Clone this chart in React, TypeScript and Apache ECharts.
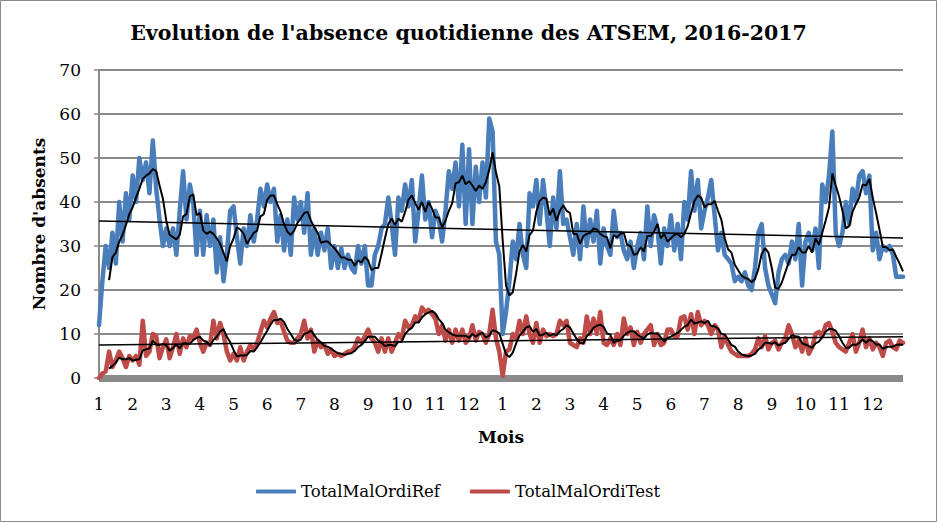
import React, { useEffect, useRef } from "react";
import * as echarts from "echarts";

const monthLabels = ["1","2","3","4","5","6","7","8","9","10","11","12","1","2","3","4","5","6","7","8","9","10","11","12"];

const refValues: number[] = [
  12,22,30,25,33,26,40,31,42,36,46,40,50,45,49,42,54,43,36,30,34,30,34,28,38,47,36,44,40,28,38,28,37,30,36,24,32,22,28,38,39,
  32,26,34,30,37,31,36,43,39,44,40,43,31,37,29,36,28,41,36,40,33,42,28,34,28,33,29,34,25,30,25,29.5,25,28,25,24,30,26,30,21,
  21,28,30,34,35,41,35,28,41,38,44,39,45,31,38,46,36,40,32,38,36,31,38,47,43,49,39,53,35,52,35,48,40,49,41,59,56,31,28,10,
  15,22,31,27,35,28,25,42,39,45,35,45,38,30,41,34,47,35,36,32,28,35,27,39,30,36,31,38,26,34,30,28,38,32,33,29,27,31,25,30,
  33,27,39,30,37,34,26,34,30,37,29,35,27,40,36,47,38,45,34,38,41,45,37,29,33,28,27,26,22,23,22,24,21,20,25,33,35,25,21,19,
  17,24,27,28,26,31,27,35,21,31,33,29,34,25,44,40,46,56,33,30,33,40,35,43,40,46,47,42,46,29,33,27,30,29,30,28,23,23,23
];

const testValues: number[] = [
  0,1,1.5,6,2.5,4,6,4.5,2.5,5,4,5,3,13,5,6,10,9.5,4.5,7,8.8,4.5,7,10,5.5,9,7,9.5,9,11,8,6,8,7.5,13,9,12.5,10,6,4,5.5,4,7,4,6,7.5,6.5,8,10.5,13,11.5,13.5,15,12.5,13,10.5,8.5,8,8,9,10,13,
  9,11,6,8.5,7,7.5,5.5,6.5,5,5.5,5,5.5,6,6,7,9,8,9.5,11,9,8,6,9,6,9,6,8,10,9,13,11.5,12,14,13,16,15,15.5,14.5,13.5,10,12,8.5,11,8,11,8.5,11,8,9,12,8.5,10.5,10,8,10,15.5,9,6,0.5,6,6.5,
  10,9,13,10,14,10,8,12.5,8,11,9.5,10,9.5,10,13,12,13,8,7.5,7,9,8,14,10,13.5,10,15,8,7.5,9,7.5,10,7.5,13.5,10,11.5,7.5,10.5,8,10,11,12,7.5,10,7.5,8,11,11,9.5,9.5,13.7,14,11,14.5,10,15,12,13,12,10,12,
  11,7,9.5,7.5,6,5.5,5,5,5,5,5.5,6.5,9,7,9.5,6.5,8,8.5,6.5,8,9,12,10,7,8.5,6,9,5.5,7,10,10.5,9.5,12,12.5,10.5,8,7,6.5,6,8,10,6,8,11,7,9,6.5,8,7,5,8,8.5,7,6.5,8.5,8
];

const refTrendEnds = [35.7, 31.8];
const testTrendEnds = [7.5, 9.4];
const maPeriod = 4;
const pointsPerMonth = 10;

function movingAverage(arr: number[], n: number): (number | null)[] {
  return arr.map((_, i) => {
    if (i < n - 1) return null;
    let s = 0;
    for (let k = i - n + 1; k <= i; k++) s += arr[k];
    return +(s / n).toFixed(2);
  });
}

const FONT = "DejaVu Serif";

export default function App() {
  const ref = useRef<HTMLDivElement>(null);
  useEffect(() => {
    document.body.style.margin = "0";
    const chart = echarts.init(ref.current as HTMLDivElement, null, { renderer: "svg" });
    const cats = refValues.map((_, i) => String(i));
    const last = cats[cats.length - 1];
    const blue = "#4a7ebb";
    const red = "#be4b48";
    const option: any = {
      animation: false,
      backgroundColor: "#ffffff",
      title: {
        text: "Evolution de l'absence quotidienne des ATSEM, 2016-2017",
        left: "center",
        top: 17,
        textStyle: { fontFamily: FONT, fontWeight: "bold", fontSize: 20.5, color: "#000" },
      },
      graphic: [
        {
          type: "rect",
          shape: { x: 0.5, y: 0.5, width: 936, height: 521 },
          style: { fill: "none", stroke: "#8a8a8a", lineWidth: 1 },
          silent: true,
        },
      ],
      legend: {
        data: ["TotalMalOrdiRef", "TotalMalOrdiTest"],
        left: 251,
        top: 478,
        icon: "roundRect",
        itemWidth: 40,
        itemHeight: 4,
        itemGap: 30,
        textStyle: { fontFamily: FONT, fontSize: 16.5, color: "#000" },
      },
      grid: { left: 99, right: 34, top: 70, bottom: 144, containLabel: false },
      xAxis: {
        type: "category",
        data: cats,
        boundaryGap: false,
        offset: 3.5,
        name: "Mois",
        nameLocation: "middle",
        nameGap: 47,
        nameTextStyle: { fontFamily: FONT, fontWeight: "bold", fontSize: 17, color: "#000" },
        axisLine: { show: true, lineStyle: { color: "#8a8a8a", width: 7, cap: "butt" } },
        axisTick: { show: false },
        axisLabel: {
          interval: (index: number) => index % pointsPerMonth === 0,
          formatter: (_v: string, index: number) => monthLabels[Math.floor(index / pointsPerMonth)] ?? "",
          fontFamily: FONT,
          fontSize: 17,
          color: "#000",
          margin: 14,
        },
        splitLine: { show: false },
      },
      yAxis: {
        type: "value",
        min: 0,
        max: 70,
        interval: 10,
        name: "Nombre d'absents",
        nameLocation: "middle",
        nameGap: 52,
        nameTextStyle: { fontFamily: FONT, fontWeight: "bold", fontSize: 17, color: "#000" },
        axisLine: { show: true, lineStyle: { color: "#8a8a8a", width: 2 } },
        axisTick: { show: true, length: 5, lineStyle: { color: "#8a8a8a", width: 1.5 } },
        axisLabel: { fontFamily: FONT, fontSize: 17, color: "#000", margin: 18 },
        splitLine: { show: true, lineStyle: { color: "#8a8a8a", width: 2 } },
      },
      series: [
        {
          name: "TotalMalOrdiRef",
          type: "line",
          data: refValues,
          showSymbol: false,
          symbol: "none",
          color: blue,
          lineStyle: { color: blue, width: 4.5, join: "round", cap: "round" },
          z: 2,
        },
        {
          name: "TotalMalOrdiTest",
          type: "line",
          data: testValues,
          showSymbol: false,
          symbol: "none",
          color: red,
          lineStyle: { color: red, width: 4.5, join: "round", cap: "round" },
          z: 2,
        },
        {
          name: "MA Ref",
          type: "line",
          data: movingAverage(refValues, maPeriod),
          showSymbol: false,
          symbol: "none",
          lineStyle: { color: "#000", width: 2 },
          z: 3,
        },
        {
          name: "MA Test",
          type: "line",
          data: movingAverage(testValues, maPeriod),
          showSymbol: false,
          symbol: "none",
          lineStyle: { color: "#000", width: 2 },
          z: 3,
        },
        {
          name: "Trend Ref",
          type: "line",
          data: [[cats[0], refTrendEnds[0]], [last, refTrendEnds[1]]],
          showSymbol: false,
          symbol: "none",
          lineStyle: { color: "#000", width: 1.5 },
          z: 4,
        },
        {
          name: "Trend Test",
          type: "line",
          data: [[cats[0], testTrendEnds[0]], [last, testTrendEnds[1]]],
          showSymbol: false,
          symbol: "none",
          lineStyle: { color: "#000", width: 1.5 },
          z: 4,
        },
      ],
    };
    chart.setOption(option);
    return () => chart.dispose();
  }, []);
  return <div ref={ref} style={{ width: 937, height: 522 }} />;
}
